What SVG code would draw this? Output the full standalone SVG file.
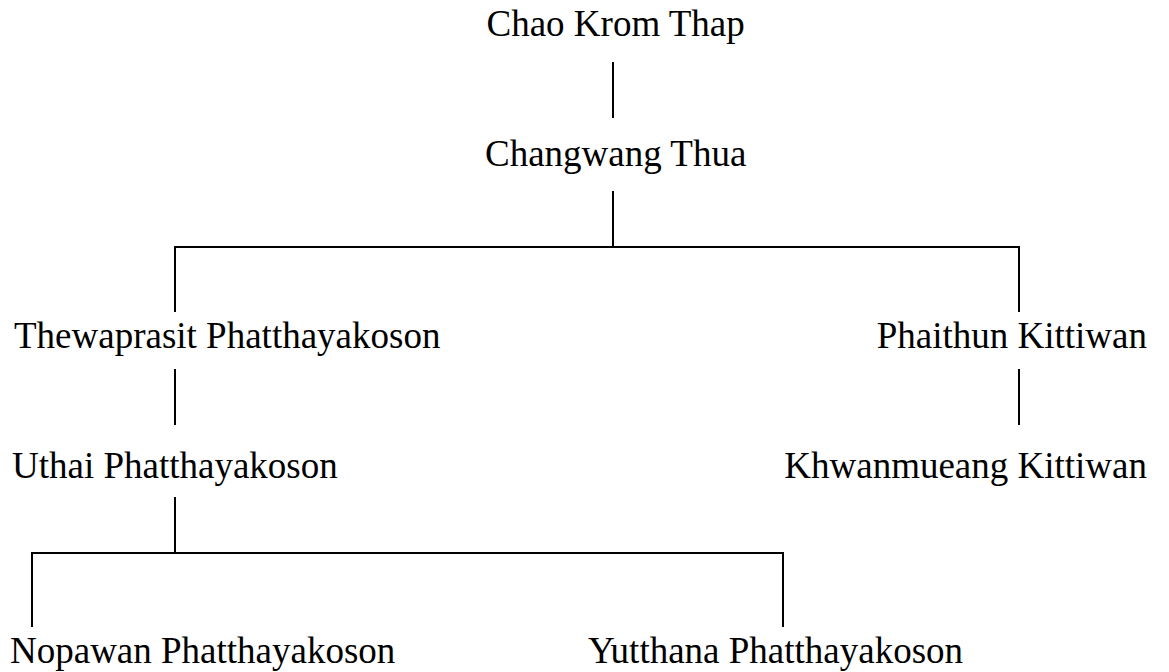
<svg xmlns="http://www.w3.org/2000/svg" width="1169" height="672" viewBox="0 0 1169 672">
<style>
.t{font-family:"Liberation Serif","Times New Roman",serif;font-size:37px;fill:#000}
.c line{stroke:#000;stroke-width:2}
</style>
<rect width="1169" height="672" fill="#fff"/>
<g class="c" id="connectors">
<line x1="613" y1="62" x2="613" y2="118"/>
<line x1="613" y1="191" x2="613" y2="247"/>
<line x1="174" y1="247" x2="1020" y2="247"/>
<line x1="175" y1="247" x2="175" y2="312"/>
<line x1="1019" y1="247" x2="1019" y2="312"/>
<line x1="175" y1="369" x2="175" y2="425"/>
<line x1="1019" y1="369" x2="1019" y2="425"/>
<line x1="175" y1="497" x2="175" y2="553"/>
<line x1="31" y1="553" x2="784" y2="553"/>
<line x1="32" y1="553" x2="32" y2="627"/>
<line x1="783" y1="553" x2="783" y2="627"/>
</g>
<g id="n1"><text class="t" x="486.5" y="36">Chao Krom Thap</text></g>
<g id="n2"><text class="t" x="485" y="166">Changwang Thua</text></g>
<g id="n3"><text class="t" x="14" y="348">Thewaprasit Phatthayakoson</text></g>
<g id="n4"><text class="t" x="1147" y="348" text-anchor="end">Phaithun Kittiwan</text></g>
<g id="n5"><text class="t" x="12" y="478">Uthai Phatthayakoson</text></g>
<g id="n6"><text class="t" x="1147" y="478" text-anchor="end">Khwanmueang Kittiwan</text></g>
<g id="n7"><text class="t" x="10" y="663">Nopawan Phatthayakoson</text></g>
<g id="n8"><text class="t" x="588" y="663">Yutthana Phatthayakoson</text></g>
</svg>
